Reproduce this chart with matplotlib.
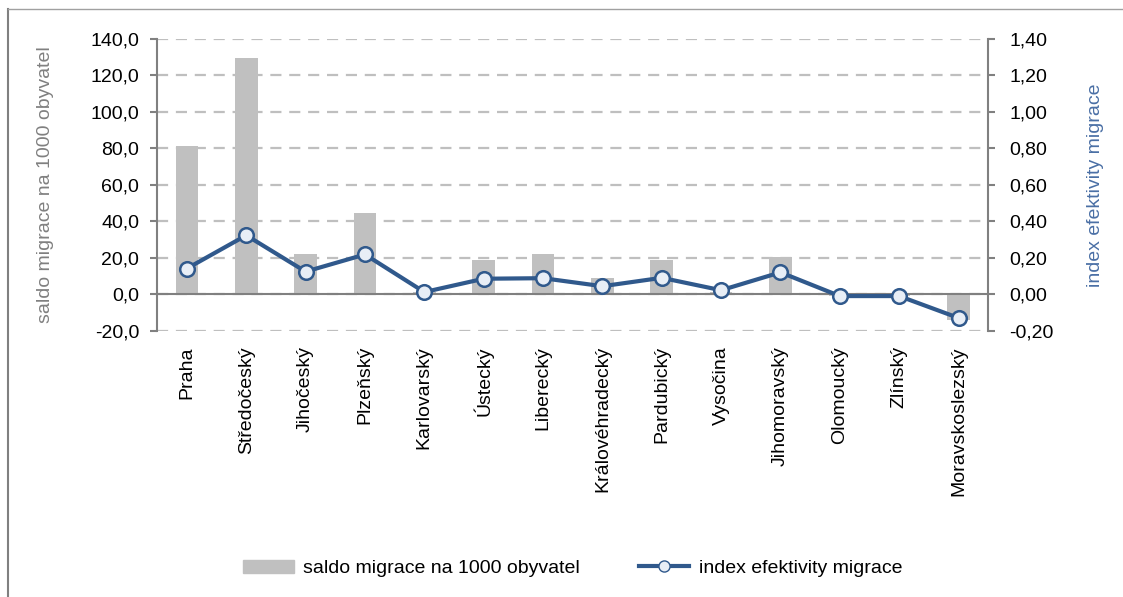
import matplotlib.pyplot as plt
import numpy as np
from matplotlib.lines import Line2D

plt.rcParams['font.family'] = ['Liberation Sans', 'DejaVu Sans']

regions = ['Praha', 'Středočeský', 'Jihočeský', 'Plzeňský', 'Karlovarský',
           'Ústecký', 'Liberecký', 'Královéhradecký', 'Pardubický', 'Vysočina',
           'Jihomoravský', 'Olomoucký', 'Zlínský', 'Moravskoslezský']
saldo = [81.1, 129.5, 21.8, 44.8, 1.5, 18.6, 22.0, 8.8, 18.6, 1.5, 20.4, -1.0, -1.0, -14.2]
index_eff = [0.141, 0.323, 0.124, 0.218, 0.012, 0.085, 0.088, 0.044, 0.090, 0.022,
             0.120, -0.010, -0.010, -0.130]

bar_col = '#C0C0C0'
line_col = '#30598C'
axis_col = '#808080'
fs = 14

fig = plt.figure(figsize=(11.23, 5.97), dpi=100)
ax = fig.add_axes([0.140, 0.446, 0.740, 0.489])
x = np.arange(len(regions))

ax.bar(x, saldo, width=0.38, color=bar_col, zorder=2)
ax.set_xlim(-0.5, len(regions) - 0.5)
ax.set_ylim(-20, 140)
ax.set_yticks(np.arange(-20, 141, 20))
ax.set_yticklabels([f'{v:.1f}'.replace('.', ',') for v in np.arange(-20, 141, 20)], fontsize=fs)
ax.yaxis.grid(True, color='#BFBFBF', linestyle=(0, (5, 3.5)), linewidth=1.6, zorder=0)
ax.axhline(0, color=axis_col, linewidth=1.5, zorder=3)
for s in ['top', 'bottom', 'right']:
    ax.spines[s].set_visible(False)
ax.spines['left'].set_color(axis_col)
ax.spines['left'].set_linewidth(1.5)
ax.tick_params(axis='y', color=axis_col, length=5, width=1.5, pad=8)
ax.set_xticks(x)
ax.set_xticklabels(regions, rotation=90, fontsize=fs, va='top')
ax.tick_params(axis='x', length=0, pad=11)
ax.set_ylabel('saldo migrace na 1000 obyvatel', fontsize=fs, color=axis_col, labelpad=26)

ax2 = ax.twinx()
ax2.plot(x, index_eff, color=line_col, linewidth=3, marker='o', markersize=10.5,
         markerfacecolor='#E8EEF6', markeredgecolor=line_col, markeredgewidth=1.8, zorder=4)
ax2.set_ylim(-0.2, 1.4)
ax2.set_yticks(np.arange(-0.2, 1.41, 0.2))
ax2.set_yticklabels([f'{v:.2f}'.replace('.', ',') for v in np.arange(-0.2, 1.41, 0.2)], fontsize=fs)
for s in ['top', 'bottom', 'left']:
    ax2.spines[s].set_visible(False)
ax2.spines['right'].set_color(axis_col)
ax2.spines['right'].set_linewidth(1.5)
ax2.tick_params(axis='y', color=axis_col, length=5, width=1.5, pad=10)
ax2.set_ylabel('index efektivity migrace', fontsize=fs, color='#4A6FA5', labelpad=24)

handles = [plt.Rectangle((0, 0), 1, 1, color=bar_col),
           Line2D([0], [0], color=line_col, linewidth=3, marker='o', markersize=8,
                  markerfacecolor='#E8EEF6', markeredgecolor=line_col)]
fig.legend(handles, ['saldo migrace na 1000 obyvatel', 'index efektivity migrace'],
           loc='center', bbox_to_anchor=(0.51, 0.048), ncol=2, frameon=False,
           fontsize=fs, handlelength=2.6, handletextpad=0.5, columnspacing=3.0)

# outer frame (top and left edge visible)
fig.add_artist(Line2D([0.0075, 0.0075], [0.0, 0.985], color=axis_col, linewidth=1.5,
                      transform=fig.transFigure))
fig.add_artist(Line2D([0.0075, 1.0], [0.985, 0.985], color='#A0A0A0', linewidth=1.0,
                      transform=fig.transFigure))

fig.savefig('out.png', dpi=100)
